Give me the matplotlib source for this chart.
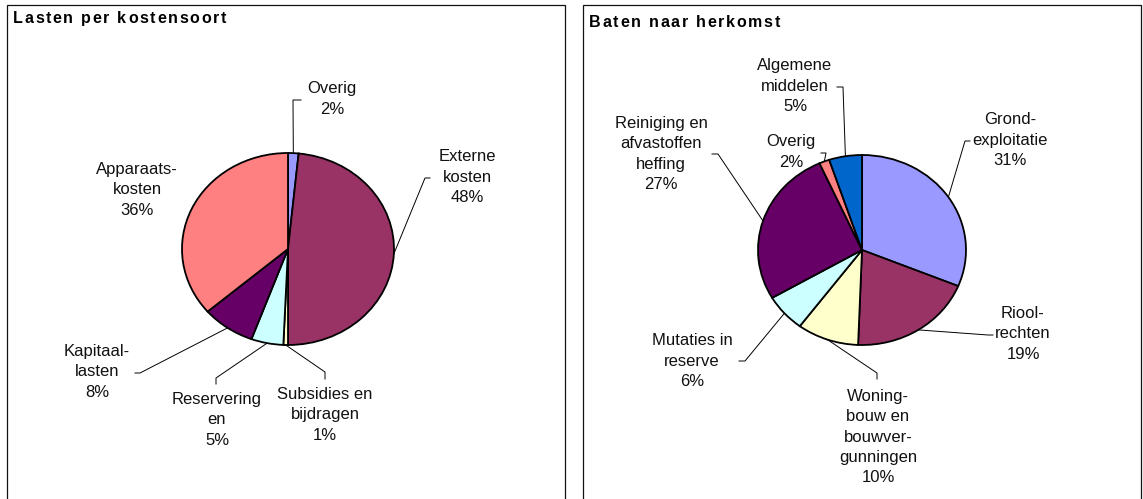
import matplotlib
matplotlib.use('Agg')
import matplotlib.pyplot as plt
import numpy as np

plt.rcParams['font.family'] = ['Liberation Sans', 'DejaVu Sans']

W, H = 1143, 499

# data: Lasten per kostensoort
left_names = ['Overig', 'Externe\nkosten', 'Subsidies en\nbijdragen', 'Reservering\nen',
              'Kapitaal-\nlasten', 'Apparaats-\nkosten']
left_values = [1.6, 48.4, 0.7, 4.9, 8.1, 36.3]
left_colors = ['#9999FF', '#993366', '#FFFFCC', '#CCFFFF', '#660066', '#FF8080']

# data: Baten naar herkomst
right_names = ['Grond-\nexploitatie', 'Riool-\nrechten', 'Woning-\nbouw en\nbouwver-\ngunningen',
               'Mutaties in\nreserve', 'Reiniging en\nafvastoffen\nheffing', 'Overig',
               'Algemene\nmiddelen']
right_values = [31.2, 19.4, 9.6, 6.4, 26.7, 1.6, 5.1]
right_colors = ['#9999FF', '#993366', '#FFFFCC', '#CCFFFF', '#660066', '#FF8080', '#0066CC']

# layout in pixels (x from left, y from top)
left_label_pos = [(332, 99), (467, 177), (325, 415), (217, 420), (97, 372), (137, 190)]
left_leaders = [((293, 100), (301, 100)), ((425, 178), (430, 178)), ((325, 372), (325, 379)),
                ((216, 378), (216, 384)), ((140, 373), (135, 373)), None]
right_label_pos = [(1010, 140), (1023, 334), (878, 437), (692, 361), (661, 154), (791, 152), (795, 86)]
right_leaders = [((965, 141), (970, 141)), ((988, 335), (993, 335)), ((877, 373), (877, 379)),
                 ((745, 361), (739, 361)), ((718, 154), (712, 154)), ((826, 153), (821, 153)),
                 ((843, 87), (837, 87))]

fig = plt.figure(figsize=(W / 100, H / 100), dpi=100)
fig.patch.set_facecolor('white')

ov = fig.add_axes([0, 0, 1, 1])
ov.set_xlim(0, W)
ov.set_ylim(H, 0)
ov.axis('off')


def spaced_text(x, y, s, gap, **kw):
    # draw text one char at a time to mimic the wide letter spacing
    r = fig.canvas.get_renderer()

    def width(txt):
        t = ov.text(0, 0, txt, **kw)
        w = t.get_window_extent(r).width
        t.remove()
        return w

    bar = width('||')
    for ch in s:
        ov.text(x, y, ch, ha='left', va='center', **kw)
        x += width('|' + ch + '|') - bar + gap


def panel(x0, x1, title, ty):
    ov.plot([x0, x0, x1, x1], [H + 10, 5, 5, H + 10], color='#111111', lw=0.9,
            solid_joinstyle='miter')
    spaced_text(x0 + 6, ty, title, 1.7, fontsize=11.5, fontweight='bold')


def pie(values, colors, names, label_pos, leaders, cx, cy, rx, ry):
    m = 1.05
    ax = fig.add_axes([(cx - rx * m) / W, 1 - (cy + ry * m) / H, 2 * rx * m / W, 2 * ry * m / H])
    wedges, _ = ax.pie(values, colors=colors, startangle=90, counterclock=False,
                       wedgeprops=dict(edgecolor='black', linewidth=1.3))
    ax.set_aspect('auto')
    ax.set_xlim(-m, m)
    ax.set_ylim(-m, m)
    ax.axis('off')
    for w, v, name, pos, ld in zip(wedges, values, names, label_pos, leaders):
        ov.text(pos[0], pos[1], f"{name}\n{v:.0f}%", ha='center', va='center',
                fontsize=12, linespacing=1.42, color='#111111')
        if ld is None:
            continue
        mid = np.deg2rad((w.theta1 + w.theta2) / 2)
        ex = cx + rx * np.cos(mid)
        ey = cy - ry * np.sin(mid)
        (bx, by), (tx, tyy) = ld
        ov.plot([ex, bx, tx], [ey, by, tyy], color='black', lw=0.7)


panel(7, 565, 'Lasten per kostensoort', 18)
panel(583, 1141, 'Baten naar herkomst', 22)

pie(left_values, left_colors, left_names, left_label_pos, left_leaders, 288, 249, 106, 96)
pie(right_values, right_colors, right_names, right_label_pos, right_leaders, 862, 250, 104, 95)

fig.savefig('out.png', dpi=100)
